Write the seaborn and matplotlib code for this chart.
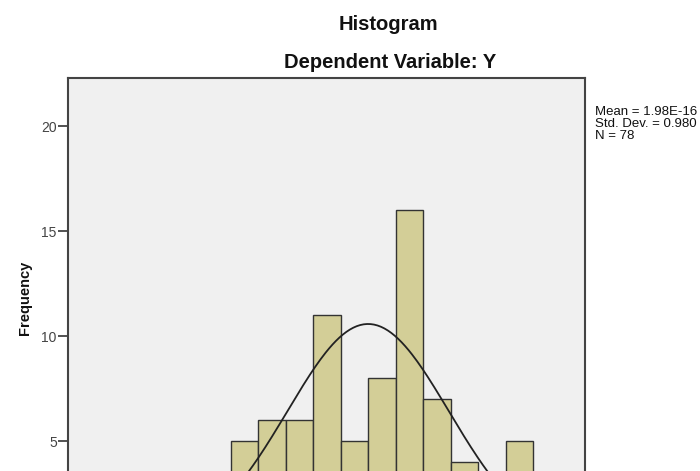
import numpy as np
import pandas as pd
import matplotlib
matplotlib.use("Agg")
import matplotlib.pyplot as plt
import seaborn as sns

# Data (standardized residual histogram)
bin_edges = [-2.333, -2.0, -1.667, -1.333, -1.0, -0.667, -0.333, 0.0,
             0.333, 0.667, 1.0, 1.333, 1.667, 2.0]
counts = [1, 2, 5, 6, 6, 11, 5, 8, 16, 7, 4, 2, 5]
mean_val = 1.98e-16
std_val = 0.980
n_obs = 78
y_ticks = [5, 10, 15, 20]
stats_lines = ["Mean = 1.98E-16", "Std. Dev. = 0.980", "N = 78"]

centers = [(a + b) / 2 for a, b in zip(bin_edges[:-1], bin_edges[1:])]
df = pd.DataFrame({"x": centers, "w": counts})

# fitted normal curve from the stats
bw = bin_edges[1] - bin_edges[0]
xs = np.linspace(-3.64, 2.63, 300)
ys = n_obs * bw * np.exp(-0.5 * ((xs - mean_val) / std_val) ** 2) / (std_val * np.sqrt(2 * np.pi))
curve = pd.DataFrame({"x": xs, "y": ys})

sns.set_style("white")
plt.rcParams['font.family'] = ['Liberation Sans', 'DejaVu Sans']

fig = plt.figure(figsize=(7, 4.71), dpi=100)
ax = fig.add_axes([0.0971, -0.1592, 0.7386, 0.9936])
ax.set_facecolor("#f0f0f0")

sns.histplot(data=df, x="x", weights="w", bins=bin_edges, ax=ax,
             color="#d3ce97", edgecolor="#333333", linewidth=1.0, alpha=1)
sns.lineplot(data=curve, x="x", y="y", ax=ax, color="#222222", linewidth=1.3)

ax.set_xlim(-3.64, 2.63)
ax.set_ylim(0, 22.29)
ax.set_yticks(y_ticks)
ax.set_xlabel("")
ax.set_ylabel("")
ax.tick_params(axis="y", direction="out", length=7, width=1.2, color="#333333",
               labelsize=10, labelcolor="#444444", pad=1, left=True)
ax.tick_params(axis="x", bottom=False, labelbottom=False)
for s in ax.spines.values():
    s.set_color("#444444")
    s.set_linewidth(1.5)

fig.text(388 / 700, 1 - 25 / 471, "Histogram", ha="center", va="center",
         fontsize=14.5, fontweight="bold", color="#111111")
fig.text(390 / 700, 1 - 63 / 471, "Dependent Variable: Y", ha="center", va="center",
         fontsize=14.5, fontweight="bold", color="#111111")
fig.text(25 / 700, 1 - 298 / 471, "Frequency", ha="center", va="center",
         rotation=90, fontsize=10.5, fontweight="bold", color="#111111")
fig.text(595 / 700, 1 - 106 / 471, "\n".join(stats_lines), ha="left", va="top",
         fontsize=9.5, color="#111111", linespacing=1.0)

plt.savefig("out.png", dpi=100)
plt.close()
